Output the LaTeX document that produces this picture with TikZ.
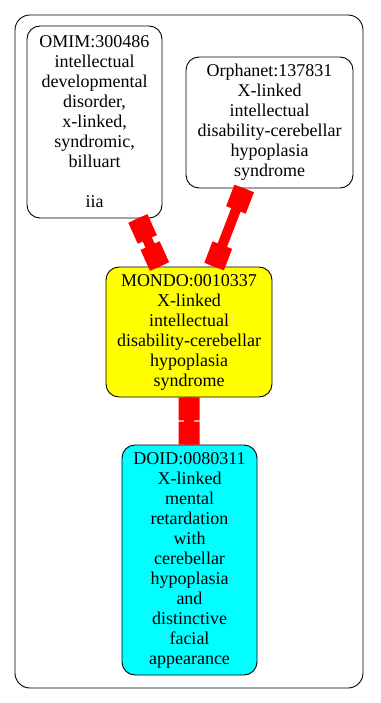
\documentclass[tikz,border=0pt]{standalone}
\usepackage{fontspec}
\setmainfont{Liberation Serif}
\usetikzlibrary{calc}
\definecolor{termyellow}{RGB}{255,255,0}
\definecolor{termcyan}{RGB}{0,255,255}
\definecolor{linkred}{RGB}{255,0,0}
\tikzset{
  term/.style={draw=black, line width=0.9pt, rounded corners=13pt, inner sep=0pt,
    align=center, font=\fontsize{18}{20}\selectfont},
  link/.style={draw=linkred, line width=10pt},
  linkend/.style={draw=linkred, line width=21pt},
}
\newcommand\boxlink[2]{%
  \path (#1) -- (#2) coordinate[pos=0] (#1-#2-s) coordinate[pos=1] (#1-#2-e);
  \draw[link] (#1-#2-s) -- (#1-#2-e);
  \draw[linkend] (#1-#2-s) -- ($(#1-#2-s)!23pt!(#1-#2-e)$);
  \draw[linkend] (#1-#2-e) -- ($(#1-#2-e)!23pt!(#1-#2-s)$);
}
\begin{document}
\begin{tikzpicture}[x=1pt, y=-1pt]
  \useasboundingbox (0,0) rectangle (380,703);
  % surrounding frame
  \draw[line width=0.9pt, rounded corners=15pt] (15,15) rectangle (363,688);

  \node[term, minimum width=135pt, minimum height=192pt] (omim) at (94.5,122)
    {OMIM:300486\\intellectual\\developmental\\disorder,\\x-linked,\\syndromic,\\billuart\\\mbox{}\\iia};
  \node[term, minimum width=167pt, minimum height=131pt] (orpha) at (269.5,122.5)
    {Orphanet:137831\\X-linked\\intellectual\\disability-cerebellar\\hypoplasia\\syndrome};
  \node[term, fill=termyellow, minimum width=166pt, minimum height=130pt] (mondo) at (189,332)
    {MONDO:0010337\\X-linked\\intellectual\\disability-cerebellar\\hypoplasia\\syndrome};
  \node[term, fill=termcyan, minimum width=135pt, minimum height=230pt] (doid) at (189.5,560)
    {DOID:0080311\\X-linked\\mental\\retardation\\with\\cerebellar\\hypoplasia\\and\\distinctive\\facial\\appearance};

  \boxlink{omim}{mondo}
  \boxlink{orpha}{mondo}
  \boxlink{mondo}{doid}
\end{tikzpicture}
\end{document}
